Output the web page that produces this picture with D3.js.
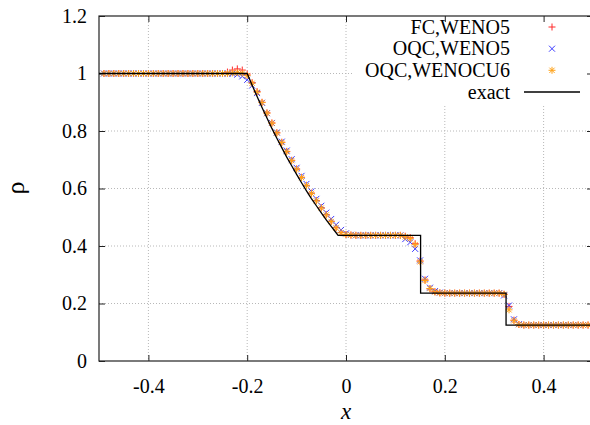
<!DOCTYPE html>
<html><head><meta charset="utf-8">
<script src="https://cdn.jsdelivr.net/npm/d3@7"></script>
<style>body{margin:0;background:#fff;}svg{display:block;}</style>
</head><body><svg id="c" width="590" height="425"></svg>
<script>
// ---- data ----
const cellX = [
-0.49,-0.48,-0.47,-0.46,-0.45,-0.44,-0.43,-0.42,-0.41,-0.40,
-0.39,-0.38,-0.37,-0.36,-0.35,-0.34,-0.33,-0.32,-0.31,-0.30,
-0.29,-0.28,-0.27,-0.26,-0.25,-0.24,-0.23,-0.22,-0.21,-0.20,
-0.19,-0.18,-0.17,-0.16,-0.15,-0.14,-0.13,-0.12,-0.11,-0.10,
-0.09,-0.08,-0.07,-0.06,-0.05,-0.04,-0.03,-0.02,-0.01,0.00,
0.01,0.02,0.03,0.04,0.05,0.06,0.07,0.08,0.09,0.10,
0.11,0.12,0.13,0.14,0.15,0.16,0.17,0.18,0.19,0.20,
0.21,0.22,0.23,0.24,0.25,0.26,0.27,0.28,0.29,0.30,
0.31,0.32,0.33,0.34,0.35,0.36,0.37,0.38,0.39,0.40,
0.41,0.42,0.43,0.44,0.45,0.46,0.47,0.48,0.49,0.50];

const rhoFC_WENO5 = [
1,1,1,1,1,1,1,1,1,1, 1,1,1,1,1,1,1,1,1,1, 1,1,1,1,1,
1.005,1.012,1.016,1.012,0.998,0.968,0.937,0.900,0.863,0.828,
0.794,0.761,0.729,0.698,0.668,0.639,0.611,0.584,0.558,0.533,
0.509,0.486,0.464,0.447,0.440,0.438,
0.437,0.437,0.437,0.437,0.437,0.437,0.437,0.437,0.437,0.437,
0.434,0.429,0.408,0.348,0.282,0.251,0.241,0.237,
0.236,0.236,0.236,0.236,0.236,0.236,0.236,0.236,0.236,0.236,0.236,0.236,
0.232,0.190,0.142,0.127,
0.125,0.125,0.125,0.125,0.125,0.125,0.125,0.125,0.125,0.125,0.125,0.125,0.125,0.125,0.125];

const rhoOQC_WENO5 = [
1,1,1,1,1,1,1,1,1,1, 1,1,1,1,1,1,1,1,1,1, 1,1,1,1,1,
1.000,0.999,0.996,0.990,0.978,0.958,0.932,0.898,0.862,0.828,
0.795,0.763,0.732,0.702,0.672,0.644,0.616,0.590,0.564,0.540,
0.516,0.494,0.474,0.456,0.444,0.439,
0.437,0.437,0.437,0.437,0.437,0.437,0.437,0.437,0.437,0.437,
0.424,0.413,0.390,0.350,0.286,0.255,0.243,0.238,
0.236,0.236,0.236,0.236,0.236,0.236,0.236,0.236,0.236,0.236,0.236,0.236,
0.228,0.193,0.145,0.128,
0.125,0.125,0.125,0.125,0.125,0.125,0.125,0.125,0.125,0.125,0.125,0.125,0.125,0.125,0.125];

const rhoOQC_WENOCU6 = [
1,1,1,1,1,1,1,1,1,1, 1,1,1,1,1,1,1,1,1,1, 1,1,1,1,1,
1.000,1.002,1.003,1.001,0.993,0.966,0.935,0.899,0.862,0.827,
0.793,0.760,0.728,0.697,0.667,0.638,0.610,0.583,0.557,0.532,
0.508,0.485,0.463,0.446,0.440,0.438,
0.437,0.437,0.437,0.437,0.437,0.437,0.437,0.437,0.437,0.437,
0.432,0.426,0.405,0.345,0.280,0.252,0.240,0.237,
0.236,0.236,0.236,0.236,0.236,0.236,0.236,0.236,0.236,0.236,0.236,0.236,
0.232,0.178,0.140,0.127,
0.125,0.125,0.125,0.125,0.125,0.125,0.125,0.125,0.125,0.125,0.125,0.125,0.125,0.125,0.125];

const exactX   = [-0.5,-0.2,-0.19,-0.18,-0.17,-0.16,-0.15,-0.14,-0.13,-0.12,-0.11,-0.10,-0.09,-0.08,-0.07,-0.06,-0.05,-0.04,-0.03,-0.02,-0.016,0.151,0.151,0.324,0.324,0.5];
const exactRho = [1,1,0.959,0.920,0.882,0.845,0.809,0.775,0.742,0.709,0.679,0.649,0.620,0.592,0.565,0.540,0.515,0.491,0.468,0.446,0.437,0.437,0.236,0.236,0.125,0.125];

const xTicks = [-0.4,-0.2,0,0.2,0.4];
const yTicks = [0,0.2,0.4,0.6,0.8,1,1.2];
const seriesNames = ["FC,WENO5","OQC,WENO5","OQC,WENOCU6","exact"];

// ---- layout ----
const SERIF = '"Liberation Serif","LiberationSerif","Tinos","Times New Roman","Nimbus Roman","Nimbus Roman No9 L","FreeSerif","Noto Serif","DejaVu Serif",serif';
const L=99, R=593, T=16, B=361;
const svg = d3.select("#c");
const x = d3.scaleLinear().domain([-0.5,0.5]).range([L,R]);
const y = d3.scaleLinear().domain([0,1.2]).range([B,T]);
const fmt = d => d3.format("")(d).replace("\u2212","-");

// grid
const grid = svg.append("g").attr("stroke","#b8b8b8").attr("stroke-width",1).attr("stroke-dasharray","1,2");
xTicks.forEach(t=>grid.append("line").attr("x1",x(t)).attr("x2",x(t)).attr("y1",T).attr("y2",B));
yTicks.filter(t=>t>0&&t<1.2).forEach(t=>grid.append("line").attr("x1",L).attr("x2",R).attr("y1",y(t)).attr("y2",y(t)));

// legend background
svg.append("rect").attr("x",354).attr("y",T).attr("width",R-354).attr("height",88).attr("fill","#fff");

// axes (gnuplot-like inward ticks, mirrored)
const tickLen=6;
const axB = svg.append("g").attr("transform",`translate(0,${B})`)
  .call(d3.axisBottom(x).tickValues(xTicks).tickSize(-tickLen).tickPadding(tickLen+12).tickFormat(fmt));
const axT = svg.append("g").attr("transform",`translate(0,${T})`)
  .call(d3.axisTop(x).tickValues(xTicks).tickSize(-tickLen).tickFormat(""));
const axL = svg.append("g").attr("transform",`translate(${L},0)`)
  .call(d3.axisLeft(y).tickValues(yTicks).tickSize(-tickLen).tickPadding(tickLen+6).tickFormat(fmt));
const axR = svg.append("g").attr("transform",`translate(${R},0)`)
  .call(d3.axisRight(y).tickValues(yTicks).tickSize(-tickLen).tickFormat(""));
[axB,axT,axL,axR].forEach(a=>{
  a.attr("font-family",SERIF).attr("font-size",20);
  a.select(".domain").remove();
  a.selectAll("line").attr("stroke","#222");
  a.selectAll("text").attr("fill","#000");
});
svg.append("rect").attr("x",L).attr("y",T).attr("width",R-L).attr("height",B-T)
  .attr("fill","none").attr("stroke","#222").attr("stroke-width",1.2);

// markers
function plus(g,cx,cy,s,c){g.append("path").attr("d",`M${cx-s},${cy}H${cx+s}M${cx},${cy-s}V${cy+s}`).attr("stroke",c).attr("fill","none").attr("stroke-width",1);}
function cross(g,cx,cy,s,c){g.append("path").attr("d",`M${cx-s},${cy-s}L${cx+s},${cy+s}M${cx-s},${cy+s}L${cx+s},${cy-s}`).attr("stroke",c).attr("fill","none").attr("stroke-width",1);}
function star(g,cx,cy,s,c){plus(g,cx,cy,s,c);cross(g,cx,cy,s*0.75,c);}

const colors = ["#ff2a2a","#3a3aff","#ffa31a"];
const shapes = [plus,cross,star];
const sizes = [3.5,3,3.5];
const series = [rhoFC_WENO5,rhoOQC_WENO5,rhoOQC_WENOCU6];
series.forEach((vals,k)=>{
  const g = svg.append("g");
  vals.forEach((v,i)=>shapes[k](g,x(cellX[i]),y(v),sizes[k],colors[k]));
});

// exact line
const line = d3.line().x(d=>x(d[0])).y(d=>y(d[1]));
svg.append("path").datum(exactX.map((v,i)=>[v,exactRho[i]])).attr("d",line)
  .attr("fill","none").attr("stroke","#000").attr("stroke-width",1.3);

// legend
const lg = svg.append("g").attr("font-family",SERIF).attr("font-size",20).attr("fill","#000");
const rowY = [27,48.7,70.3,92];
seriesNames.forEach((n,k)=>{
  lg.append("text").attr("x",510).attr("y",rowY[k]+6.5).attr("text-anchor","end").text(n);
  if(k<3){ const gg=svg.append("g"); shapes[k](gg,552,rowY[k],sizes[k],colors[k]); }
  else svg.append("line").attr("x1",524).attr("x2",580).attr("y1",rowY[k]).attr("y2",rowY[k]).attr("stroke","#000").attr("stroke-width",1.3);
});

// axis labels
svg.append("text").attr("x",x(0)).attr("y",419).attr("text-anchor","middle").attr("font-family",SERIF).attr("font-style","italic").attr("font-size",23).text("x");
svg.append("text").attr("transform","translate(24,188) rotate(-90)").attr("text-anchor","middle").attr("font-family",SERIF).attr("font-size",26).text("ρ");
</script></body></html>
